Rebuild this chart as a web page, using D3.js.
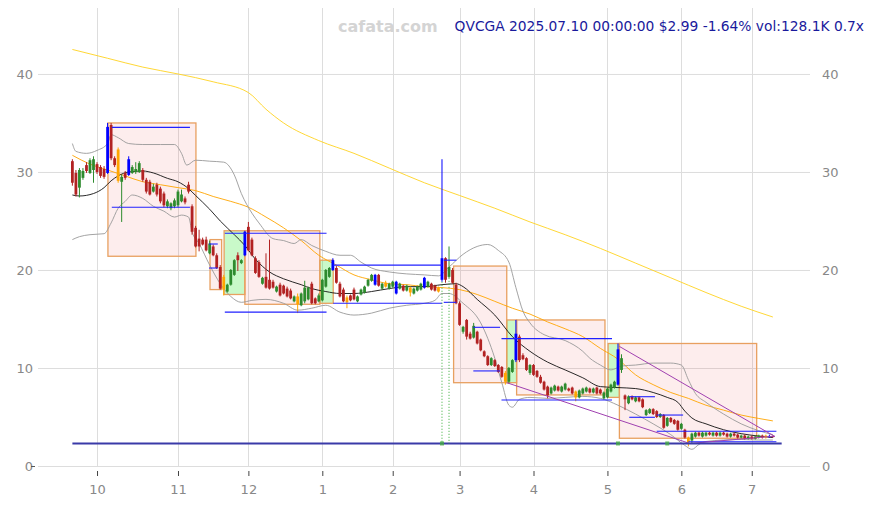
<!DOCTYPE html>
<html><head><meta charset="utf-8">
<script src="https://cdn.jsdelivr.net/npm/d3@7"></script>
<style>body{margin:0;background:#fff}svg{display:block}</style>
</head><body><svg id="c" width="874" height="505"></svg>
<script>
// ---- data (index = trading day, 0 = 2024-09-20 ... 199 = 2025-07-10) ----
const monthIdx = [7,30,50,71,91,110,131,152,173,193];
const monthLabels = ["10","11","12","1","2","3","4","5","6","7"];
const yTicks = [0,10,20,30,40];

const opens = [
31.1,29.9,28.4,29.4,30.7,29.9,30.2,30.8,30.5,30.3,
29.9,34.8,31.4,32.3,29.0,29.9,29.7,29.9,30.0,30.0,
30.2,29.2,29.0,28.0,28.7,28.3,27.8,26.5,26.3,26.5,
26.6,27.0,27.3,28.7,26.5,24.3,23.2,23.1,23.1,21.7,
22.4,21.5,20.3,19.3,17.8,18.5,19.5,21.5,20.7,21.5,
24.4,23.1,21.2,20.8,18.6,19.3,19.0,18.8,17.8,18.5,
18.4,18.1,17.9,16.8,17.3,16.4,16.8,17.0,18.6,17.1,
16.8,16.9,18.3,19.3,20.0,20.2,18.6,18.0,17.2,17.4,
18.0,16.8,17.5,17.7,18.4,18.9,18.5,19.5,18.1,18.7,
18.1,18.3,17.6,18.1,18.4,17.9,18.2,17.6,17.9,18.0,
18.2,18.3,18.6,18.4,18.2,19.0,21.2,19.3,20.0,18.5,
16.6,13.7,14.9,13.5,13.1,13.7,12.9,11.7,11.2,10.3,
10.8,10.3,10.1,9.5,8.6,9.6,10.8,13.2,11.3,11.0,
9.5,10.3,9.7,9.1,8.6,8.1,7.4,7.7,8.1,7.6,
7.8,7.9,8.0,7.6,7.0,7.4,7.6,7.9,7.5,8.0,
7.8,6.9,7.0,7.6,8.0,8.3,9.8,7.2,6.4,7.1,
6.6,7.0,6.8,5.2,5.4,5.8,5.6,5.0,5.2,4.1,
4.9,4.7,4.6,3.8,3.7,2.9,2.6,3.0,3.4,3.0,
3.1,3.4,3.1,3.4,3.1,3.4,3.3,3.0,3.3,3.2,
2.9,3.1,2.8,3.0,2.8,2.9,3.1,2.9,3.0,3.05];
const highs = [
31.3,30.2,30.4,30.4,31.0,31.4,31.6,31.0,30.7,30.6,
35.0,35.0,31.6,32.5,29.7,30.1,31.6,30.7,31.0,31.1,
30.4,29.4,29.2,28.8,28.9,28.5,28.0,27.2,26.9,27.3,
28.2,28.2,27.5,29.0,26.7,24.5,24.1,23.3,23.4,23.0,
22.6,21.7,20.5,19.5,18.6,20.1,21.1,21.8,21.1,24.0,
24.9,23.3,21.4,21.0,19.3,21.7,23.1,19.0,18.4,18.7,
18.5,18.3,18.1,17.4,17.6,17.7,18.9,18.3,18.8,17.2,
17.6,19.1,20.1,20.3,21.2,20.4,18.8,18.2,17.4,17.5,
18.2,17.4,18.1,18.4,19.1,19.6,19.6,19.6,18.7,18.9,
18.7,18.9,18.9,18.7,18.5,18.5,18.3,18.2,18.4,18.7,
19.3,18.9,18.7,18.5,18.3,31.3,21.3,22.4,20.2,18.7,
16.8,14.3,15.0,13.7,14.6,13.8,13.0,11.8,11.3,11.1,
10.9,10.4,10.2,9.7,10.1,10.9,14.9,13.4,11.5,11.1,
10.4,10.4,9.8,9.3,8.7,8.2,8.1,8.3,8.2,8.2,
8.5,8.0,8.1,7.7,7.8,8.0,8.1,8.0,8.0,8.1,
7.9,7.6,8.0,8.4,8.7,12.5,11.4,7.3,7.2,7.2,
7.1,7.1,6.9,5.8,5.9,5.9,5.7,5.4,5.3,5.0,
5.0,4.8,4.7,4.4,3.8,3.0,3.4,3.5,3.5,3.5,
3.5,3.5,3.5,3.5,3.5,3.5,3.4,3.4,3.4,3.3,
3.2,3.2,3.1,3.1,3.1,3.2,3.2,3.2,3.2,3.1];
const lows = [
28.6,27.5,27.4,29.2,29.9,29.8,28.9,29.8,29.4,29.3,
29.8,31.2,30.5,28.9,24.9,29.2,29.6,29.8,29.8,29.9,
29.0,27.8,27.6,27.9,27.5,26.8,26.4,26.3,26.1,26.3,
26.4,26.9,26.7,27.8,23.6,22.3,21.9,22.5,21.9,21.6,
21.4,20.1,18.0,17.4,17.7,18.4,19.4,19.9,20.6,21.4,
21.9,21.4,19.6,19.2,18.5,18.1,18.0,18.1,17.7,17.3,
17.5,17.2,17.0,16.7,15.6,16.3,16.6,16.9,16.5,16.5,
16.7,16.8,18.2,19.2,19.9,18.6,17.2,16.7,16.1,16.8,
16.9,16.7,17.4,17.6,18.3,18.8,18.4,18.3,18.0,18.2,
18.0,18.2,17.5,18.0,17.8,17.8,17.3,17.5,17.8,17.9,
18.1,18.2,17.9,17.8,17.7,18.8,18.7,19.2,18.6,16.5,
14.3,13.5,12.9,12.9,13.0,12.4,11.7,11.1,10.2,10.2,
10.1,9.5,9.0,8.3,8.4,9.5,10.6,10.6,10.8,9.7,
9.3,9.2,9.0,8.4,7.7,6.9,7.3,7.6,7.6,7.5,
7.7,7.6,7.3,6.6,6.9,7.3,7.5,7.4,7.4,7.3,
7.3,6.8,6.9,7.5,7.9,8.2,9.5,5.7,6.3,6.7,
6.5,6.5,5.9,5.1,5.3,5.2,4.9,4.9,3.8,4.0,
4.4,4.2,3.6,3.7,2.8,2.0,2.3,2.9,3.0,2.9,
3.0,3.1,3.0,3.0,3.0,3.1,2.9,2.9,3.0,2.8,
2.8,2.7,2.7,2.7,2.7,2.8,2.8,2.8,2.9,2.9];
const closes = [
28.9,27.7,30.2,30.1,30.1,31.2,31.3,30.0,29.6,29.5,
34.6,31.4,30.7,29.1,29.5,29.4,31.3,30.5,30.3,30.9,
29.2,28.0,27.7,28.5,27.7,27.0,26.6,27.0,26.8,27.1,
28.0,27.7,26.9,28.0,23.9,22.4,22.4,22.6,22.0,22.7,
21.5,20.2,18.1,18.0,18.5,20.0,21.0,21.0,21.0,23.9,
22.0,21.5,19.7,19.3,19.2,18.2,18.1,18.2,18.3,17.4,
17.6,17.3,17.1,17.3,16.5,17.6,18.2,18.2,16.6,16.6,
17.4,19.0,20.0,20.2,21.0,18.7,17.3,16.8,16.7,16.9,
17.0,17.3,18.0,18.3,19.0,19.5,19.5,18.4,18.6,18.3,
18.6,18.8,18.8,18.6,17.9,18.4,17.7,18.1,18.3,18.6,
19.2,18.8,18.0,17.9,17.8,21.2,19.0,20.3,18.7,16.6,
14.4,14.2,13.2,13.0,14.3,12.5,11.8,11.2,10.3,11.0,
10.2,9.6,9.1,8.6,10.0,10.8,13.5,10.8,10.9,9.8,
10.3,9.3,9.1,8.5,7.8,7.2,8.0,8.2,7.7,8.1,
8.4,7.7,7.4,7.0,7.7,7.9,8.0,7.5,7.9,7.4,
7.4,7.5,7.9,8.3,8.6,11.9,11.0,6.8,7.1,6.8,
7.0,6.6,6.0,5.7,5.8,5.3,5.0,5.3,3.9,4.9,
4.5,4.3,3.7,4.3,2.9,2.4,3.3,3.4,3.1,3.4,
3.4,3.2,3.4,3.1,3.4,3.2,3.0,3.3,3.1,2.9,
3.1,2.8,3.0,2.8,3.0,3.1,2.9,3.1,3.04,2.99];
const blueIdx = [10,16,49,74,86,92,100,105,126,155,198];
const orangeIdx = [13,43,64,78,89,96,104,123,143,175,197];

// moving averages / bands as [index, price]
const ma20 = [[0,27.65],[2,27.55],[6,27.8],[9,28.4],[11,29.1],[13,29.6],[16,30.0],[20,30.1],[23,29.9],[27,29.35],[30,29.0],[33,28.3],[35,27.6],[39,26.2],[42,25.0],[46,23.6],[49,22.5],[52,21.1],[56,19.8],[60,19.1],[65,18.5],[68,18.1],[72,17.8],[76,17.6],[80,17.6],[85,17.8],[90,18.1],[95,18.3],[100,18.3],[105,18.5],[109,18.6],[111,18.3],[115,17.0],[120,15.4],[125,13.2],[130,11.7],[135,10.6],[140,9.8],[145,9.0],[150,8.1],[155,8.0],[160,7.9],[165,7.5],[169,7.0],[172,6.5],[174,5.6],[176,4.9],[180,4.3],[185,3.7],[190,3.3],[195,3.05],[199,2.9]];
const bbUpper = [[0,32.9],[1,32.1],[4,31.9],[7,32.2],[10,32.9],[11,33.8],[13,33.5],[16,32.9],[20,32.8],[25,32.8],[29,32.8],[31,31.9],[32.5,30.7],[35,31.2],[39,31.1],[43,31.0],[46,29.7],[48,27.8],[51,25.8],[53,24.8],[57,23.2],[60,23.0],[63,22.7],[65,23.1],[68,22.5],[72,21.9],[76,21.5],[79,21.5],[82,20.8],[85,20.2],[90,19.8],[95,19.6],[100,19.5],[104,19.4],[107,20.3],[111,21.6],[115,22.4],[118,22.6],[121,22.0],[124,20.8],[126,18.2],[128,15.8],[130,14.6],[134,13.4],[140,12.8],[145,11.7],[147,11.0],[150,10.3],[153,9.8],[156,10.2],[160,10.3],[165,10.5],[170,10.5],[173,10.3],[175,8.8],[177,7.4],[180,6.5],[185,5.3],[190,4.3],[195,3.6],[199,3.2]];
const bbLower = [[0,23.1],[2,23.4],[5,23.6],[9,23.7],[11,24.8],[13,26.3],[15,27.0],[17,27.65],[20,27.3],[23,26.5],[26,26.0],[29,25.4],[31,25.6],[33,25.4],[34,23.9],[36,22.7],[39,20.5],[42,18.6],[45,17.3],[48,16.7],[51,16.9],[55,17.0],[60,16.6],[64,15.9],[68,16.1],[72,16.4],[76,15.7],[80,15.4],[85,15.6],[90,16.1],[95,16.4],[100,16.6],[103,16.9],[105,17.6],[107,17.6],[111,16.6],[116,14.6],[120,11.0],[122,8.5],[124,6.2],[125,6.0],[127,6.8],[130,7.0],[135,6.9],[140,7.0],[145,7.1],[150,6.9],[155,6.2],[160,5.3],[165,4.3],[170,3.2],[174,2.1],[176,1.7],[178,2.2],[180,2.5],[185,2.65],[190,2.7],[195,2.65],[199,2.65]];
const ma50 = [[0,31.7],[5,30.8],[10,30.2],[15,29.6],[20,29.0],[25,28.7],[30,28.4],[35,28.1],[40,27.5],[45,27.0],[50,26.4],[55,25.4],[60,24.3],[65,23.0],[70,21.5],[75,20.5],[80,19.5],[85,19.0],[90,18.6],[95,18.5],[100,18.3],[105,18.2],[110,18.0],[115,17.5],[120,16.8],[125,16.1],[130,15.5],[135,14.7],[140,14.0],[145,13.2],[150,12.0],[155,10.9],[160,9.3],[165,8.3],[170,7.5],[175,6.9],[180,6.2],[185,5.7],[190,5.2],[195,4.85],[199,4.6]];
const ma200 = [[0,42.5],[10,41.6],[20,40.7],[30,40.0],[40,39.2],[50,38.1],[55,36.4],[60,35.0],[70,33.2],[80,31.9],[90,30.4],[100,28.9],[110,27.6],[120,26.3],[130,24.9],[140,23.6],[150,22.2],[160,20.7],[170,19.2],[180,17.7],[190,16.3],[199,15.2]];

// boxes: [startIdx, endIdx, top, bottom, kind]
const boxes = [
 [10.1,35.1,35.0,21.4,"down"],
 [39.1,42.4,23.1,18.0,"down"],
 [43.1,49.0,24.0,17.5,"up"],
 [49.0,70.3,24.0,16.5,"down"],
 [70.3,74.1,21.0,16.6,"up"],
 [108.3,123.4,20.4,8.5,"down"],
 [123.4,126.2,14.9,8.5,"up"],
 [126.2,151.3,14.9,7.25,"down"],
 [152.2,155.4,12.5,7.0,"up"],
 [155.4,194.4,12.5,2.83,"down"]];
// support / resistance segments: [startIdx, endIdx, price]
const levels = [
 [11.2,33.4,34.55],[11.2,33.4,26.4],
 [38.8,41.3,22.65],[38.8,41.3,20.2],
 [43.3,72.2,23.75],[43.3,72.2,15.7],
 [74.1,105,20.5],[74.1,105,16.6],
 [105.5,109.1,21.0],[105.5,109.1,16.7],
 [113.9,121.5,14.15],[113.9,121.5,9.7],
 [121.9,153.3,13.0],[121.9,153.3,6.73],
 [158.2,165.5,7.07],[158.2,165.5,4.97],
 [166,173.5,5.2],[166,200,3.55],[175,200,2.48]];
// trend lines: [i1, p1, i2, p2]
const trends = [[123.4,8.5,175.4,2.3],[175.4,2.3,199.5,3.05],[155.4,12.2,199.6,3.0]];
const baseLevel = [0, 201.5, 2.3];
const signalIdx = [105, 107];
const markerIdx = [105, 155, 169];

// ---- drawing ----
const svg = d3.select("#c");
const L=38,R=810,T=8,B=466;
const x = d3.scaleLinear().domain([-9.77,209.55]).range([L,R]);
const y = d3.scaleLinear().domain([0,46.73]).range([B,T]);
const font = "DejaVu Sans, Verdana, sans-serif";

// grid
svg.append("g").selectAll("line").data(yTicks).join("line")
  .attr("x1",L).attr("x2",R).attr("y1",d=>y(d)+0.5).attr("y2",d=>y(d)+0.5)
  .attr("stroke","#dddddd").attr("stroke-width",1);
svg.append("g").selectAll("line").data(monthIdx).join("line")
  .attr("x1",d=>Math.round(x(d))+0.5).attr("x2",d=>Math.round(x(d))+0.5).attr("y1",T).attr("y2",B)
  .attr("stroke","#dddddd").attr("stroke-width",1);

// x axis
const xAxis = d3.axisBottom(x).tickValues(monthIdx).tickFormat((d,i)=>monthLabels[i]).tickSize(5).tickPadding(9);
const gx = svg.append("g").attr("transform",`translate(0,${B+5})`).call(xAxis);
gx.select(".domain").remove();
gx.selectAll(".tick line").attr("stroke","#444");
gx.selectAll("text").attr("fill","#888").style("font-family",font).style("font-size","13px");
// y axes
const gl = svg.append("g").attr("transform",`translate(${L},0)`).call(d3.axisLeft(y).tickValues(yTicks).tickSize(0).tickPadding(5));
const gr = svg.append("g").attr("transform",`translate(${R},0)`).call(d3.axisRight(y).tickValues(yTicks).tickSize(0).tickPadding(12));
[gl,gr].forEach(g=>{g.select(".domain").remove();g.selectAll("text").attr("fill","#888").style("font-family",font).style("font-size","13px");});
svg.append("line").attr("x1",31).attr("x2",35).attr("y1",y(0)+0.5).attr("y2",y(0)+0.5).attr("stroke","#555");

// boxes
svg.append("g").selectAll("rect").data(boxes).join("rect")
  .attr("x",d=>x(d[0])).attr("y",d=>y(d[2])).attr("width",d=>x(d[1])-x(d[0])).attr("height",d=>y(d[3])-y(d[2]))
  .attr("fill",d=>d[4]==="up"?"rgba(40,230,40,0.25)":"rgba(240,80,80,0.10)")
  .attr("stroke","#e8a060").attr("stroke-width",1.3);

// lines
const line = d3.line().x(d=>x(d[0])).y(d=>y(d[1])).curve(d3.curveMonotoneX);
const addLine=(data,color,w)=>svg.append("path").datum(data).attr("d",line).attr("fill","none").attr("stroke",color).attr("stroke-width",w);
addLine(ma200,"#ffd21f",0.9);
addLine(ma50,"#ffa500",0.9);
addLine(bbUpper,"#999999",0.9);
addLine(bbLower,"#999999",0.9);
addLine(ma20,"#111111",0.9);

// candles
const idx = d3.range(closes.length);
const color = i => blueIdx.includes(i) ? "#0000ff" : orangeIdx.includes(i) ? "#ffa500" : (closes[i]>=opens[i] ? "#2e8b2e" : "#b22222");
const gc = svg.append("g");
gc.selectAll("line").data(idx).join("line")
  .attr("x1",i=>x(i)).attr("x2",i=>x(i)).attr("y1",i=>y(highs[i])).attr("y2",i=>y(lows[i]))
  .attr("stroke",color).attr("stroke-width",1);
gc.selectAll("rect").data(idx).join("rect")
  .attr("x",i=>x(i)-1.4).attr("width",2.8)
  .attr("y",i=>y(Math.max(opens[i],closes[i])))
  .attr("height",i=>Math.max(1,Math.abs(y(opens[i])-y(closes[i]))))
  .attr("fill",color);

// levels
svg.append("g").selectAll("line").data(levels).join("line")
  .attr("x1",d=>x(d[0])).attr("x2",d=>x(d[1])).attr("y1",d=>y(d[2])).attr("y2",d=>y(d[2]))
  .attr("stroke","#2020ff").attr("stroke-width",1.1);
// trends
svg.append("g").selectAll("line").data(trends).join("line")
  .attr("x1",d=>x(d[0])).attr("y1",d=>y(d[1])).attr("x2",d=>x(d[2])).attr("y2",d=>y(d[3]))
  .attr("stroke","#a040b0").attr("stroke-width",1);
// base level
svg.append("line").attr("x1",x(baseLevel[0])).attr("x2",x(baseLevel[1])).attr("y1",y(baseLevel[2])).attr("y2",y(baseLevel[2]))
  .attr("stroke","#3a3aa8").attr("stroke-width",2);
// signals
svg.append("g").selectAll("line").data(signalIdx).join("line")
  .attr("x1",i=>x(i)).attr("x2",i=>x(i)).attr("y1",i=>y(lows[i])).attr("y2",y(baseLevel[2]))
  .attr("stroke","#33aa33").attr("stroke-width",1).attr("stroke-dasharray","1,2");
svg.append("g").selectAll("rect").data(markerIdx).join("rect")
  .attr("x",i=>x(i)-2).attr("y",y(baseLevel[2])-2).attr("width",4).attr("height",4)
  .attr("fill","#44aa44").attr("opacity",0.8);

// title
svg.append("text").attr("x",338).attr("y",32).text("cafata.com")
  .style("font-family",font).style("font-size","16px").style("font-weight","bold").attr("fill","#d4d4d4");
svg.append("text").attr("x",864).attr("y",31).attr("text-anchor","end")
  .text("QVCGA 2025.07.10 00:00:00 $2.99 -1.64% vol:128.1K 0.7x")
  .style("font-family",font).style("font-size","13.8px").attr("fill","#1a1a9c");
</script></body></html>
